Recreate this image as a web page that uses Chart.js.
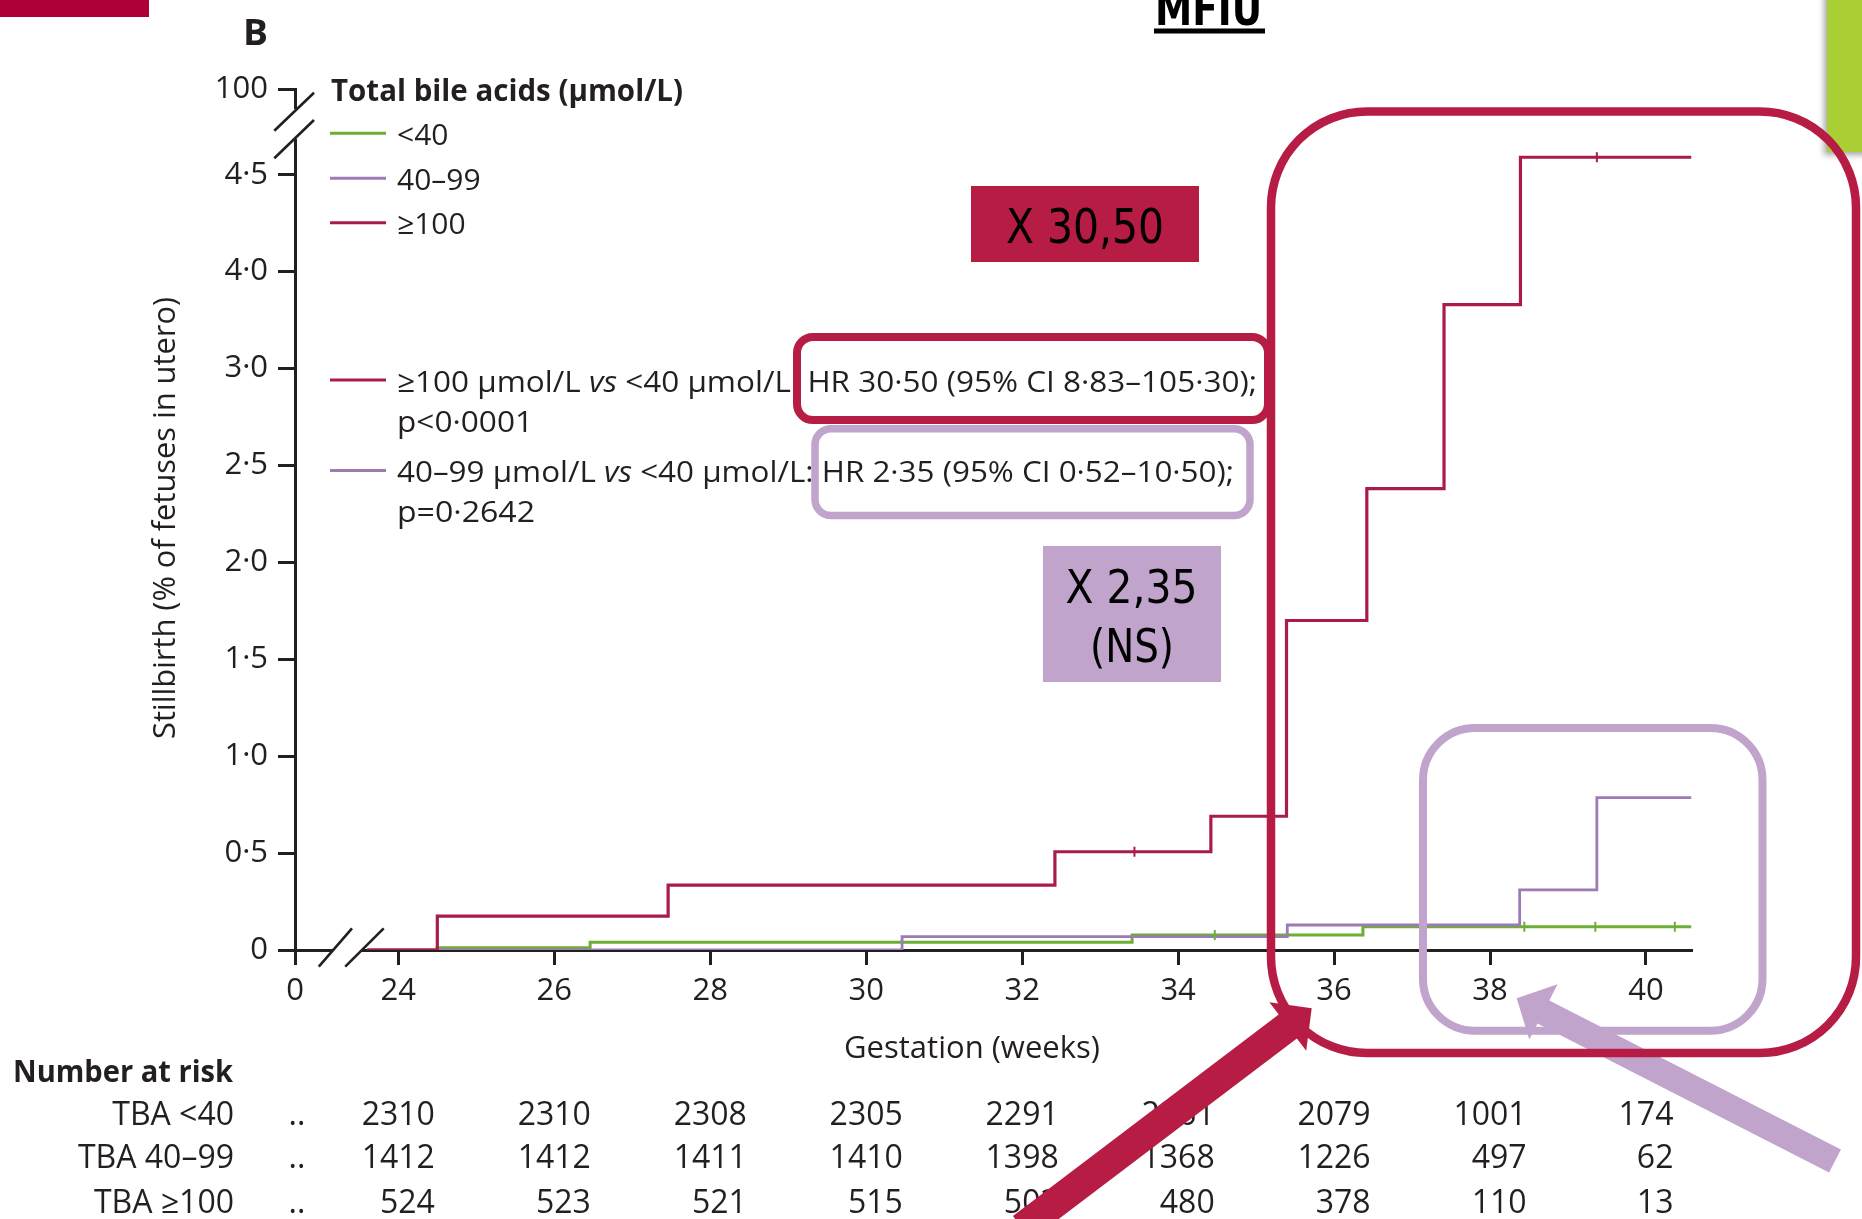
<!DOCTYPE html>
<html>
<head>
<meta charset="utf-8">
<script src="https://cdn.jsdelivr.net/npm/chart.js@4.4.1/dist/chart.umd.min.js"></script>
<style>
  html, body { margin: 0; padding: 0; background: #ffffff; }
  canvas { display: block; }
</style>
</head>
<body>
<canvas id="km" width="1862" height="1219"></canvas>
<script>
// Cumulative stillbirth (% of fetuses in utero) by total bile acid group, step curves
const weeksLt40   = [23.6, 24.5, 26.46, 33.41, 36.37, 40.58];
const pctLt40     = [0, 0.012, 0.04, 0.077, 0.12, 0.12];
const weeks40to99 = [23.6, 30.46, 35.40, 38.38, 39.37, 40.58];
const pct40to99   = [0, 0.069, 0.129, 0.31, 0.786, 0.786];
const weeksGe100  = [23.6, 24.5, 27.46, 32.42, 34.42, 35.39, 36.42, 37.41, 38.39, 40.58];
const pctGe100    = [0, 0.175, 0.335, 0.507, 0.69, 1.70, 2.38, 3.33, 4.09, 4.09];

// censoring ticks
const censorWeeksLt40  = [34.47, 38.44, 39.35, 40.37];
const censorPctLt40    = [0.077, 0.12, 0.12, 0.12];
const censorWeeksGe100 = [33.44, 39.37];
const censorPctGe100   = [0.507, 4.09];

// axes (broken at both origins)
const xTickValues = [22.675, 24, 26, 28, 30, 32, 34, 36, 38, 40];
const xTickLabels = ['0', '24', '26', '28', '30', '32', '34', '36', '38', '40'];
const yTickValues = [0, 0.5, 1, 1.5, 2, 2.5, 3, 3.5, 4, 4.442];
const yTickLabels = ['0', '0·5', '1·0', '1·5', '2·0', '2·5', '3·0', '4·0', '4·5', '100'];

// number at risk
const riskWeeks  = [24, 26, 28, 30, 32, 34, 36, 38, 40];
const riskLt40   = [2310, 2310, 2308, 2305, 2291, 2261, 2079, 1001, 174];
const risk40to99 = [1412, 1412, 1411, 1410, 1398, 1368, 1226, 497, 62];
const riskGe100  = [524, 523, 521, 515, 503, 480, 378, 110, 13];
const riskRowLabels = ['TBA <40', 'TBA 40–99', 'TBA ≥100'];

const groupLabels = ['<40', '40–99', '≥100'];

const GREEN = '#6dae35';
const PURPLE = '#9c7ab6';
const RED = '#a91c48';
const INK = '#231f20';
const BOX_RED = '#b71c44';
const BOX_LILAC = '#c0a4cc';
const FONT = "'Open Sans', 'Noto Sans', sans-serif";
const NARROW = "'Liberation Sans Narrow', 'DejaVu Sans Condensed', 'Liberation Sans', sans-serif";

const pts = (xs, ys) => xs.map((x, i) => ({ x: x, y: ys[i] }));

function drawText(ctx, str, x, y, font, opts) {
  opts = opts || {};
  ctx.save();
  ctx.font = font;
  ctx.fillStyle = opts.color || INK;
  ctx.textBaseline = 'alphabetic';
  ctx.textAlign = opts.align || 'left';
  const w = ctx.measureText(str).width;
  const sx = opts.width ? opts.width / w : 1;
  ctx.translate(x, y);
  if (opts.rotate) ctx.rotate(opts.rotate);
  ctx.scale(sx, 1);
  ctx.fillText(str, 0, 0);
  ctx.restore();
}

// text made of runs with their own fonts, squeezed to a given width
function drawRuns(ctx, runs, x, y, width, color) {
  ctx.save();
  ctx.textBaseline = 'alphabetic';
  ctx.textAlign = 'left';
  ctx.fillStyle = color || INK;
  let total = 0;
  runs.forEach(r => { ctx.font = r.font; total += ctx.measureText(r.text).width; });
  const sx = width ? width / total : 1;
  ctx.translate(x, y);
  ctx.scale(sx, 1);
  let cx = 0;
  runs.forEach(r => { ctx.font = r.font; ctx.fillText(r.text, cx, 0); cx += ctx.measureText(r.text).width; });
  ctx.restore();
}

function roundRectPath(ctx, x0, y0, x1, y1, r) {
  ctx.beginPath();
  ctx.moveTo(x0 + r, y0);
  ctx.arcTo(x1, y0, x1, y1, r);
  ctx.arcTo(x1, y1, x0, y1, r);
  ctx.arcTo(x0, y1, x0, y0, r);
  ctx.arcTo(x0, y0, x1, y0, r);
  ctx.closePath();
}

function strokeRound(ctx, x0, y0, x1, y1, r, color, lw) {
  ctx.save();
  roundRectPath(ctx, x0, y0, x1, y1, r);
  ctx.strokeStyle = color;
  ctx.lineWidth = lw;
  ctx.stroke();
  ctx.restore();
}

function blockArrow(ctx, tail, tip, width, headLen, headHalf, color) {
  const dx = tip[0] - tail[0], dy = tip[1] - tail[1];
  const L = Math.hypot(dx, dy);
  const ux = dx / L, uy = dy / L, px = -uy, py = ux;
  const bx = tip[0] - ux * headLen, by = tip[1] - uy * headLen;
  const hw = width / 2;
  ctx.save();
  ctx.fillStyle = color;
  ctx.beginPath();
  ctx.moveTo(tail[0] + px * hw, tail[1] + py * hw);
  ctx.lineTo(bx + px * hw, by + py * hw);
  ctx.lineTo(bx + px * headHalf, by + py * headHalf);
  ctx.lineTo(tip[0], tip[1]);
  ctx.lineTo(bx - px * headHalf, by - py * headHalf);
  ctx.lineTo(bx - px * hw, by - py * hw);
  ctx.lineTo(tail[0] - px * hw, tail[1] - py * hw);
  ctx.closePath();
  ctx.fill();
  ctx.restore();
}

function line(ctx, x0, y0, x1, y1, color, lw) {
  ctx.save();
  ctx.strokeStyle = color; ctx.lineWidth = lw;
  ctx.beginPath(); ctx.moveTo(x0, y0); ctx.lineTo(x1, y1); ctx.stroke();
  ctx.restore();
}

const decorations = {
  id: 'decorations',
  afterDraw(chart) {
    const ctx = chart.ctx;
    const xs = chart.scales.x;

    // axis breaks
    ctx.save();
    ctx.fillStyle = '#ffffff';
    ctx.fillRect(288, 109, 14, 30);
    ctx.fillRect(333, 945, 29, 10);
    ctx.restore();
    line(ctx, 274.3, 130.7, 314, 92.7, INK, 2.6);
    line(ctx, 274.3, 158.3, 314, 120, INK, 2.6);
    line(ctx, 318.8, 966.7, 352, 928.3, INK, 2.6);
    line(ctx, 345.2, 966.7, 383.7, 928.3, INK, 2.6);

    // group key
    drawText(ctx, 'Total bile acids (µmol/L)', 331, 101, "bold 30px " + FONT, { width: 352 });
    const keyY = [133.3, 178.3, 222.7];
    const keyCol = [GREEN, PURPLE, RED];
    groupLabels.forEach((g, i) => {
      line(ctx, 330, keyY[i], 386, keyY[i], keyCol[i], 3);
      drawText(ctx, g, 397, keyY[i] + 11.5, "30px " + FONT);
    });

    // hazard ratios
    line(ctx, 330, 380, 386, 380, RED, 3);
    drawRuns(ctx, [
      { text: '≥100 µmol/L ', font: "30px " + FONT },
      { text: 'vs', font: "italic 30px " + FONT },
      { text: ' <40 µmol/L: HR 30·50 (95% CI 8·83–105·30);', font: "30px " + FONT }
    ], 397, 391.5, 860);
    drawText(ctx, 'p<0·0001', 397, 432, "30px " + FONT, { width: 136 });
    line(ctx, 330, 470.5, 386, 470.5, PURPLE, 3);
    drawRuns(ctx, [
      { text: '40–99 µmol/L ', font: "30px " + FONT },
      { text: 'vs', font: "italic 30px " + FONT },
      { text: ' <40 µmol/L: HR 2·35 (95% CI 0·52–10·50);', font: "30px " + FONT }
    ], 397, 481.5, 837);
    drawText(ctx, 'p=0·2642', 397, 522, "30px " + FONT, { width: 138 });

    // axis titles
    drawText(ctx, 'Stillbirth (% of fetuses in utero)', 175, 518, "31px " + FONT,
      { align: 'center', rotate: -Math.PI / 2, width: 442 });
    drawText(ctx, 'Gestation (weeks)', 972, 1058, "31px " + FONT, { align: 'center', width: 256 });

    // number at risk table
    drawText(ctx, 'Number at risk', 13, 1082, "bold 31px " + FONT, { width: 220 });
    const rows = [riskLt40, risk40to99, riskGe100];
    const rowBase = [1125, 1168, 1213];
    const tf = "32px " + FONT;
    ctx.save();
    ctx.font = tf;
    const colRight = riskWeeks.map((w, j) => {
      const maxW = Math.max.apply(null, rows.map(r => ctx.measureText(String(r[j])).width));
      return xs.getPixelForValue(w) + maxW / 2;
    });
    ctx.restore();
    rows.forEach((r, i) => {
      drawText(ctx, riskRowLabels[i], 234, rowBase[i], tf, { align: 'right' });
      drawText(ctx, '..', xs.getPixelForValue(xTickValues[0]) + 2, rowBase[i], tf, { align: 'center' });
      r.forEach((v, j) => drawText(ctx, String(v), colRight[j], rowBase[i], tf, { align: 'right' }));
    });

    // panel letter, slide furniture and heading
    drawText(ctx, 'B', 243, 45, "bold 36px " + FONT, { width: 25 });
    ctx.save();
    ctx.fillStyle = '#ae0036';
    ctx.fillRect(0, 0, 149, 17);
    ctx.restore();
    drawText(ctx, 'MFIU', 1155, 25, "bold 46px " + NARROW, { color: '#000000', width: 107 });
    ctx.save();
    ctx.fillStyle = '#000000';
    ctx.fillRect(1154, 28.5, 111, 5);
    ctx.shadowColor = 'rgba(0,0,0,0.35)';
    ctx.shadowBlur = 6;
    ctx.shadowOffsetX = -3;
    ctx.shadowOffsetY = 3;
    ctx.fillStyle = '#a9cf35';
    ctx.fillRect(1827, -10, 45, 162);
    ctx.restore();

    // pointer arrows
    blockArrow(ctx, [1022, 1228], [1311.7, 1008.3], 30, 30, 30.5, BOX_RED);
    blockArrow(ctx, [1835, 1161], [1516.7, 998.3], 26, 30, 31, BOX_LILAC);

    // highlight frames
    strokeRound(ctx, 1271, 111.5, 1856, 1053, 96, BOX_RED, 8.5);
    strokeRound(ctx, 1423, 728, 1762.5, 1030.7, 52, BOX_LILAC, 8);
    strokeRound(ctx, 797, 337, 1268, 420, 16, BOX_RED, 8);
    strokeRound(ctx, 815, 428.7, 1250, 515.5, 16, BOX_LILAC, 7.5);

    // hazard ratio callouts
    ctx.save();
    ctx.fillStyle = BOX_RED;
    ctx.fillRect(971, 186, 228, 76);
    ctx.fillStyle = BOX_LILAC;
    ctx.fillRect(1043, 546, 178, 136);
    ctx.restore();
    drawText(ctx, 'X 30,50', 1085, 243, "48px " + NARROW, { color: '#000000', align: 'center', width: 158 });
    drawText(ctx, 'X 2,35', 1131.5, 603, "47px " + NARROW, { color: '#000000', align: 'center', width: 132 });
    drawText(ctx, '(NS)', 1132, 662, "47px " + NARROW, { color: '#000000', align: 'center', width: 84 });
  }
};

Chart.defaults.font.family = FONT;

new Chart(document.getElementById('km'), {
  type: 'line',
  data: {
    datasets: [
      { label: 'censored ≥100', data: pts(censorWeeksGe100, censorPctGe100), showLine: false,
        pointStyle: 'line', rotation: 90, pointRadius: 5, borderColor: RED, borderWidth: 2, order: 0 },
      { label: 'censored <40', data: pts(censorWeeksLt40, censorPctLt40), showLine: false,
        pointStyle: 'line', rotation: 90, pointRadius: 5, borderColor: GREEN, borderWidth: 2, order: 0 },
      { label: groupLabels[2], data: pts(weeksGe100, pctGe100), stepped: true, borderColor: RED,
        borderWidth: 3.2, pointRadius: 0, fill: false, order: 1 },
      { label: groupLabels[1], data: pts(weeks40to99, pct40to99), stepped: true, borderColor: PURPLE,
        borderWidth: 2.8, pointRadius: 0, fill: false, order: 2 },
      { label: groupLabels[0], data: pts(weeksLt40, pctLt40), stepped: true, borderColor: GREEN,
        borderWidth: 3, pointRadius: 0, fill: false, order: 3 }
    ]
  },
  options: {
    responsive: false,
    animation: false,
    devicePixelRatio: 1,
    layout: { padding: { left: 0, top: 89, right: 170, bottom: 0 } },
    plugins: { legend: { display: false }, tooltip: { enabled: false } },
    scales: {
      x: {
        type: 'linear',
        min: 22.675,
        max: 40.59,
        afterBuildTicks: s => { s.ticks = xTickValues.map(v => ({ value: v })); },
        afterFit: s => { s.height = 269; },
        grid: { display: true, drawOnChartArea: false, drawTicks: true, tickLength: 15, tickWidth: 3, tickColor: INK },
        border: { display: true, color: INK, width: 3 },
        ticks: { callback: (v, i) => xTickLabels[i], color: INK, font: { size: 31 }, padding: 8,
                 maxRotation: 0, minRotation: 0, autoSkip: false }
      },
      y: {
        type: 'linear',
        min: 0,
        max: 4.442,
        afterBuildTicks: s => { s.ticks = yTickValues.map(v => ({ value: v })); },
        afterFit: s => { s.width = 295; },
        grid: { display: true, drawOnChartArea: false, drawTicks: true, tickLength: 17, tickWidth: 3, tickColor: INK },
        border: { display: true, color: INK, width: 3 },
        ticks: { callback: (v, i) => yTickLabels[i], color: INK, font: { size: 31 }, padding: 10, autoSkip: false }
      }
    }
  },
  plugins: [decorations]
});
</script>
</body>
</html>
